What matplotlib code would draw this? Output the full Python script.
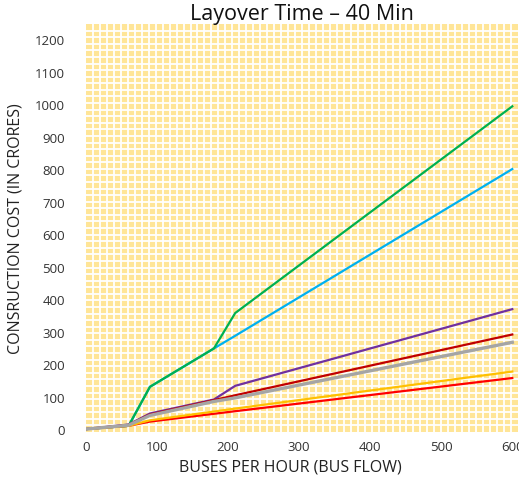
import matplotlib
matplotlib.use("Agg")
import matplotlib.pyplot as plt

# Data
buses = [0, 60, 90, 180, 210, 600]
series_green = [0, 10, 130, 248, 357, 993]
series_blue = [0, 10, 130, 248, 287, 800]
series_purple = [0, 14, 48, 91, 133, 369]
series_darkred = [0, 13, 45, 89, 104, 291]
series_gray = [0, 12, 42, 85, 96, 267]
series_orange = [0, 10, 27, 54, 63, 177]
series_red = [0, 10, 23, 47, 55, 157]
x_ticks = [0, 100, 200, 300, 400, 500, 600]
y_ticks = [0, 100, 200, 300, 400, 500, 600, 700, 800, 900, 1000, 1100, 1200]

font = ["Open Sans", "DejaVu Sans"]
plt.rcParams['font.family'] = font

fig = plt.figure(figsize=(5.19, 4.81), dpi=100)
ax = fig.add_axes([0.1657, 0.0998, 0.8323, 0.848])
ax.set_facecolor("#FFE597")
ax.set_xlim(0, 608)
ax.set_ylim(-9, 1246)

# patterned white grid (Excel-like fill)
n_v = 62
n_h = 62
for i in range(1, n_v):
    ax.plot([i / n_v, i / n_v], [0, 1], transform=ax.transAxes, color="white", lw=1.3, zorder=0.5)
for j in range(1, n_h):
    ax.plot([0, 1], [j / n_h, j / n_h], transform=ax.transAxes, color="white", lw=1.3, zorder=0.5)

ax.plot(buses, series_red, color="#FF0000", lw=1.6, zorder=3)
ax.plot(buses, series_orange, color="#FFC000", lw=1.6, zorder=3)
ax.plot(buses, series_gray, color="#A5A5A5", lw=2.4, zorder=3)
ax.plot(buses, series_darkred, color="#C00000", lw=1.6, zorder=2.9)
ax.plot(buses, series_purple, color="#7030A0", lw=1.6, zorder=2.8)
ax.plot(buses, series_blue, color="#00B0F0", lw=1.6, zorder=2.7)
ax.plot(buses, series_green, color="#00B050", lw=1.6, zorder=2.75)

ax.set_xticks(x_ticks)
ax.set_yticks(y_ticks)
ax.set_xticklabels([str(v) for v in x_ticks], fontsize=9.5)
ax.set_yticklabels([str(v) for v in y_ticks], fontsize=9.5)
ax.tick_params(axis="both", length=0, colors="#333333")
ax.tick_params(axis="y", pad=15)
ax.tick_params(axis="x", pad=6)
for s in ax.spines.values():
    s.set_visible(False)

ax.set_xlabel("BUSES PER HOUR (BUS FLOW)", fontsize=11.5, color="#222222")
ax.xaxis.set_label_coords(0.472, -0.064)
ax.set_ylabel("CONSRUCTION COST (IN CRORES)", fontsize=11.5, color="#222222", labelpad=8)
ax.set_title("Layover Time – 40 Min", fontsize=15.5, color="#111111", pad=1)

fig.savefig("out.png", dpi=100)
